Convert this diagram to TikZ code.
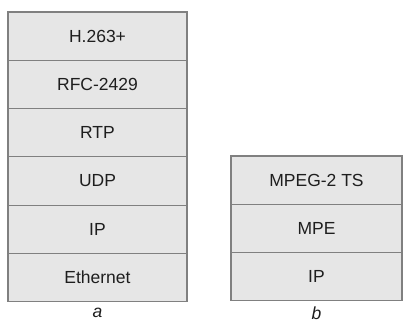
\documentclass[tikz,border=0pt]{standalone}
\usepackage{fontspec}
\setmainfont{Liberation Sans}
\usetikzlibrary{positioning}
\definecolor{layerfill}{RGB}{230,230,230}
\definecolor{layerline}{RGB}{128,128,128}
\definecolor{layertext}{RGB}{30,30,30}

\begin{document}
\begin{tikzpicture}[x=1pt,y=1pt,font=\fontsize{17.5}{21}\selectfont,text=layertext,
layer/.style={draw=layerline,line width=1.2pt,fill=layerfill,minimum height=48.3pt,inner sep=0pt,outer sep=0pt},
stacka/.style={layer,minimum width=179pt},
stackb/.style={layer,minimum width=171pt},
caption/.style={font=\fontsize{17.5}{21}\selectfont\itshape,inner sep=1pt}]
\useasboundingbox (0,0) rectangle (404,323);

% stack a
\node[stacka] (h263) at (97.5,286.85) {H.263+};
\node[stacka,below=0pt of h263] (rfc) {RFC-2429};
\node[stacka,below=0pt of rfc] (rtp) {RTP};
\node[stacka,below=0pt of rtp] (udp) {UDP};
\node[stacka,below=0pt of udp] (ipa) {IP};
\node[stacka,below=0pt of ipa] (eth) {Ethernet};
\node[caption] (capa) at (97.5,10) {a};

% stack b
\node[stackb] (ts) at (316.5,142.85) {MPEG-2 TS};
\node[stackb,below=0pt of ts] (mpe) {MPE};
\node[stackb,below=0pt of mpe] (ipb) {IP};
\node[caption] (capb) at (316.5,10) {b};
\end{tikzpicture}
\end{document}
